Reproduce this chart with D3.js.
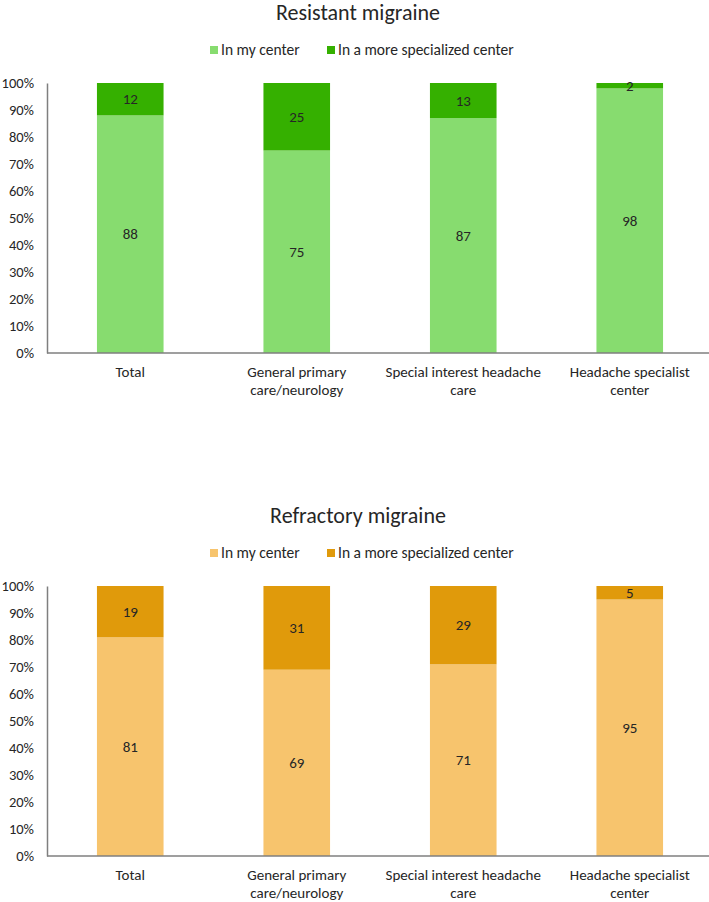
<!DOCTYPE html>
<html lang="en">
<head>
    <meta charset="UTF-8">
    <title>Resistant and refractory migraine</title>
    <script src="https://d3js.org/d3.v7.min.js"></script>
    <style>
        body{
            margin: 0;
            background: #fff;
        }
        svg text{
            font-family: Carlito, Lato, "Open Sans", sans-serif;
            fill: #262626;
        }
    </style>
</head>
<body>
    <div id="chart"></div>

    <script>
        // categories (each split into the lines shown under the axis)
        const categories = ["Total", "General primary care/neurology", "Special interest headache care", "Headache specialist center"];
        const categoryLines = [["Total"], ["General primary", "care/neurology"], ["Special interest headache", "care"], ["Headache specialist", "center"]];
        const seriesNames = ["In my center", "In a more specialized center"];
        const yTicks = [0, 10, 20, 30, 40, 50, 60, 70, 80, 90, 100];

        // Resistant migraine
        const resistantMyCenter = [88, 75, 87, 98];
        const resistantSpecialized = [12, 25, 13, 2];

        // Refractory migraine
        const refractoryMyCenter = [81, 69, 71, 95];
        const refractorySpecialized = [19, 31, 29, 5];

        const width = 709;
        const height = 902;

        const svg = d3.select("#chart")
            .append("svg")
            .attr("width", width)
            .attr("height", height);

        drawChart(0, "Resistant migraine", resistantMyCenter, resistantSpecialized, ["#87dc6f", "#35b000"]);
        drawChart(503, "Refractory migraine", refractoryMyCenter, refractorySpecialized, ["#f7c46d", "#e09a0b"]);

        function drawChart(offsetY, title, myCenter, specialized, colors) {
            const g = svg.append("g").attr("transform", `translate(0,${offsetY})`);

            const left = 47;
            const top = 83;
            const bottom = 353;

            const x = d3.scaleBand()
                .domain(categories)
                .range([left, 713])
                .paddingInner(0.6)
                .paddingOuter(0.3);

            const y = d3.scaleLinear()
                .domain([0, 100])
                .range([bottom, top]);

            // title
            g.append("text")
                .attr("x", 358)
                .attr("y", 20)
                .attr("text-anchor", "middle")
                .style("font-size", "22px")
                .text(title);

            // legend
            const legendItems = [
                {name: seriesNames[0], color: colors[0], x: 210},
                {name: seriesNames[1], color: colors[1], x: 327}
            ];
            const legend = g.selectAll(".legend")
                .data(legendItems)
                .enter().append("g")
                .attr("class", "legend")
                .attr("transform", d => `translate(${d.x},46)`);
            legend.append("rect")
                .attr("width", 8)
                .attr("height", 8)
                .attr("fill", d => d.color);
            legend.append("text")
                .attr("x", 11)
                .attr("y", 8.5)
                .style("font-size", "15.5px")
                .text(d => d.name);

            // stacked data
            const rows = categories.map((c, i) => ({cat: c, a: myCenter[i], b: specialized[i]}));

            // bottom segments
            g.selectAll(".segA")
                .data(rows)
                .enter().append("rect")
                .attr("class", "segA")
                .attr("x", d => x(d.cat))
                .attr("width", x.bandwidth())
                .attr("y", d => y(d.a))
                .attr("height", d => y(0) - y(d.a))
                .attr("fill", colors[0]);

            // top segments
            g.selectAll(".segB")
                .data(rows)
                .enter().append("rect")
                .attr("class", "segB")
                .attr("x", d => x(d.cat))
                .attr("width", x.bandwidth())
                .attr("y", d => y(d.a + d.b))
                .attr("height", d => y(d.a) - y(d.a + d.b))
                .attr("fill", colors[1]);

            // value labels
            g.selectAll(".labA")
                .data(rows)
                .enter().append("text")
                .attr("x", d => x(d.cat) + x.bandwidth() / 2)
                .attr("y", d => y(d.a / 2))
                .attr("dy", "0.35em")
                .attr("text-anchor", "middle")
                .style("font-size", "15px")
                .text(d => d.a);

            g.selectAll(".labB")
                .data(rows)
                .enter().append("text")
                .attr("x", d => x(d.cat) + x.bandwidth() / 2)
                .attr("y", d => y(d.a + d.b / 2))
                .attr("dy", "0.35em")
                .attr("text-anchor", "middle")
                .style("font-size", "15px")
                .text(d => d.b);

            // y axis
            const yAxis = g.append("g")
                .attr("transform", `translate(${left},0)`)
                .call(d3.axisLeft(y).tickValues(yTicks).tickSize(0).tickPadding(13).tickFormat(d => d + "%"));
            yAxis.select(".domain").attr("stroke", "#7f7f7f").attr("stroke-width", 1.5);
            yAxis.selectAll("text").style("font-size", "14.5px");

            // x axis line
            g.append("line")
                .attr("x1", left)
                .attr("x2", width)
                .attr("y1", bottom)
                .attr("y2", bottom)
                .attr("stroke", "#7f7f7f")
                .attr("stroke-width", 1.5);

            // category labels
            const catLabels = g.selectAll(".cat")
                .data(categories)
                .enter().append("text")
                .attr("class", "cat")
                .attr("text-anchor", "middle")
                .style("font-size", "15px");
            catLabels.selectAll("tspan")
                .data((d, i) => categoryLines[i].map(line => ({line, cat: d})))
                .enter().append("tspan")
                .attr("x", d => x(d.cat) + x.bandwidth() / 2)
                .attr("y", (d, j) => 377 + j * 18)
                .text(d => d.line);
        }
    </script>
</body>
</html>
